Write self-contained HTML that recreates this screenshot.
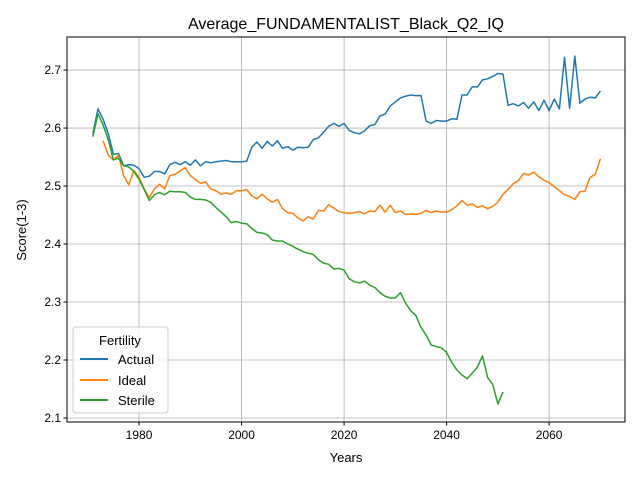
<!DOCTYPE html>
<html><head><meta charset="utf-8"><style>
body{margin:0;background:#fff}
svg{font-family:"Liberation Sans","DejaVu Sans",sans-serif}
</style></head><body>
<svg id="chart" width="640" height="480" xmlns="http://www.w3.org/2000/svg">
<rect width="640" height="480" fill="#fff"/>
<text x="346" y="29" text-anchor="middle" font-size="16">Average_FUNDAMENTALIST_Black_Q2_IQ</text>
<g id="grid"></g>
<g id="series"></g>
<rect x="67" y="37" width="558" height="385" fill="none" stroke="#000" stroke-width="1"/>
<g id="ticks"></g>
<text x="346" y="462" text-anchor="middle" font-size="13">Years</text>
<text x="26" y="230" text-anchor="middle" font-size="13" transform="rotate(-90 26 230)">Score(1-3)</text>
<g id="legend">
<rect x="73" y="327" width="95" height="86" rx="3" fill="#fff" fill-opacity="0.8" stroke="#ccc"/>
<text x="120" y="345" text-anchor="middle" font-size="13">Fertility</text>
<line x1="80" y1="359" x2="108" y2="359" stroke="#1f77b4" stroke-width="2"/>
<text x="118" y="364" font-size="13">Actual</text>
<line x1="80" y1="380" x2="108" y2="380" stroke="#ff7f0e" stroke-width="2"/>
<text x="118" y="385" font-size="13">Ideal</text>
<line x1="80" y1="400" x2="108" y2="400" stroke="#2ca02c" stroke-width="2"/>
<text x="118" y="405" font-size="13">Sterile</text>
</g>
</svg>
<script>
const actualStart = 1971;
const actual = [2.59,2.633,2.615,2.59,2.555,2.556,2.535,2.537,2.536,2.53,2.515,2.517,2.525,2.525,2.521,2.537,2.541,2.537,2.542,2.536,2.545,2.535,2.542,2.54,2.542,2.543,2.544,2.542,2.542,2.542,2.543,2.567,2.576,2.565,2.577,2.569,2.578,2.565,2.568,2.562,2.567,2.566,2.567,2.58,2.583,2.593,2.603,2.608,2.603,2.608,2.596,2.592,2.59,2.595,2.604,2.606,2.621,2.624,2.638,2.645,2.652,2.655,2.657,2.656,2.656,2.612,2.608,2.613,2.612,2.612,2.616,2.615,2.657,2.657,2.671,2.671,2.683,2.685,2.689,2.694,2.693,2.639,2.642,2.638,2.644,2.634,2.645,2.630,2.648,2.630,2.650,2.633,2.722,2.634,2.724,2.643,2.650,2.653,2.652,2.664];
const idealStart = 1973;
const ideal = [2.578,2.553,2.545,2.553,2.518,2.502,2.527,2.515,2.495,2.480,2.495,2.503,2.495,2.518,2.520,2.526,2.532,2.518,2.511,2.505,2.507,2.495,2.492,2.486,2.488,2.486,2.492,2.492,2.494,2.483,2.478,2.486,2.478,2.472,2.477,2.461,2.454,2.453,2.445,2.440,2.447,2.443,2.458,2.457,2.468,2.462,2.456,2.454,2.453,2.454,2.456,2.452,2.457,2.456,2.467,2.455,2.467,2.454,2.457,2.451,2.452,2.451,2.453,2.458,2.454,2.457,2.455,2.455,2.459,2.466,2.475,2.467,2.469,2.463,2.466,2.461,2.465,2.472,2.486,2.494,2.504,2.509,2.522,2.519,2.524,2.516,2.510,2.506,2.499,2.492,2.485,2.482,2.477,2.490,2.491,2.515,2.520,2.547];
const sterileStart = 1971;
const sterile = [2.585,2.625,2.605,2.58,2.545,2.548,2.535,2.533,2.525,2.512,2.494,2.475,2.485,2.489,2.485,2.491,2.490,2.490,2.489,2.481,2.477,2.477,2.476,2.472,2.463,2.455,2.447,2.437,2.439,2.436,2.435,2.427,2.420,2.419,2.416,2.407,2.405,2.405,2.400,2.396,2.391,2.387,2.384,2.382,2.373,2.367,2.365,2.357,2.358,2.355,2.340,2.335,2.333,2.336,2.329,2.325,2.316,2.310,2.307,2.307,2.316,2.298,2.285,2.277,2.256,2.243,2.226,2.223,2.221,2.213,2.196,2.183,2.174,2.168,2.177,2.188,2.207,2.170,2.158,2.124,2.145];
const xTicks = [1980,2000,2020,2040,2060];
const yTicks = [2.1,2.2,2.3,2.4,2.5,2.6,2.7];

const NS="http://www.w3.org/2000/svg";
const L=67,R=625,T=37,B=422, X0=1965.95, X1=2074.8, Y0=2.0931, Y1=2.757;
const sx=v=>L+(v-X0)/(X1-X0)*(R-L);
const sy=v=>B-(v-Y0)/(Y1-Y0)*(B-T);
function mk(tag,attrs,parent){const e=document.createElementNS(NS,tag);for(const k in attrs)e.setAttribute(k,attrs[k]);parent.appendChild(e);return e;}
const grid=document.getElementById('grid'),ticks=document.getElementById('ticks'),ser=document.getElementById('series');
xTicks.forEach(t=>{const x=sx(t);
 const g=mk('line',{x1:x,x2:x,y1:T,y2:B,stroke:'#b0b0b0','stroke-width':0.8},grid);
 
 
 mk('line',{x1:x,x2:x,y1:B,y2:B+3.5,stroke:'#000'},ticks);
 const tx=mk('text',{x:x,y:B+17,'text-anchor':'middle','font-size':12},ticks);tx.textContent=t;
 
 
});
yTicks.forEach(t=>{const y=sy(t);
 const g=mk('line',{x1:L,x2:R,y1:y,y2:y,stroke:'#b0b0b0','stroke-width':0.8},grid);
 
 
 mk('line',{x1:L-3.5,x2:L,y1:y,y2:y,stroke:'#000'},ticks);
 const tx=mk('text',{x:L-6,y:y+4,'text-anchor':'end','font-size':12},ticks);tx.textContent=t.toFixed(1);
 
 
});
function line(vals,start,color,name){
 const d=vals.map((v,i)=>(i?'L':'M')+sx(start+i).toFixed(1)+','+sy(v).toFixed(1)).join('');
 const p=mk('path',{d:d,fill:'none',stroke:color,'stroke-width':1.5,'stroke-linejoin':'round'},ser);
 
 
}
line(actual,actualStart,'#1f77b4','actual-line');
line(ideal,idealStart,'#ff7f0e','ideal-line');
line(sterile,sterileStart,'#2ca02c','sterile-line');
</script>
</body></html>
